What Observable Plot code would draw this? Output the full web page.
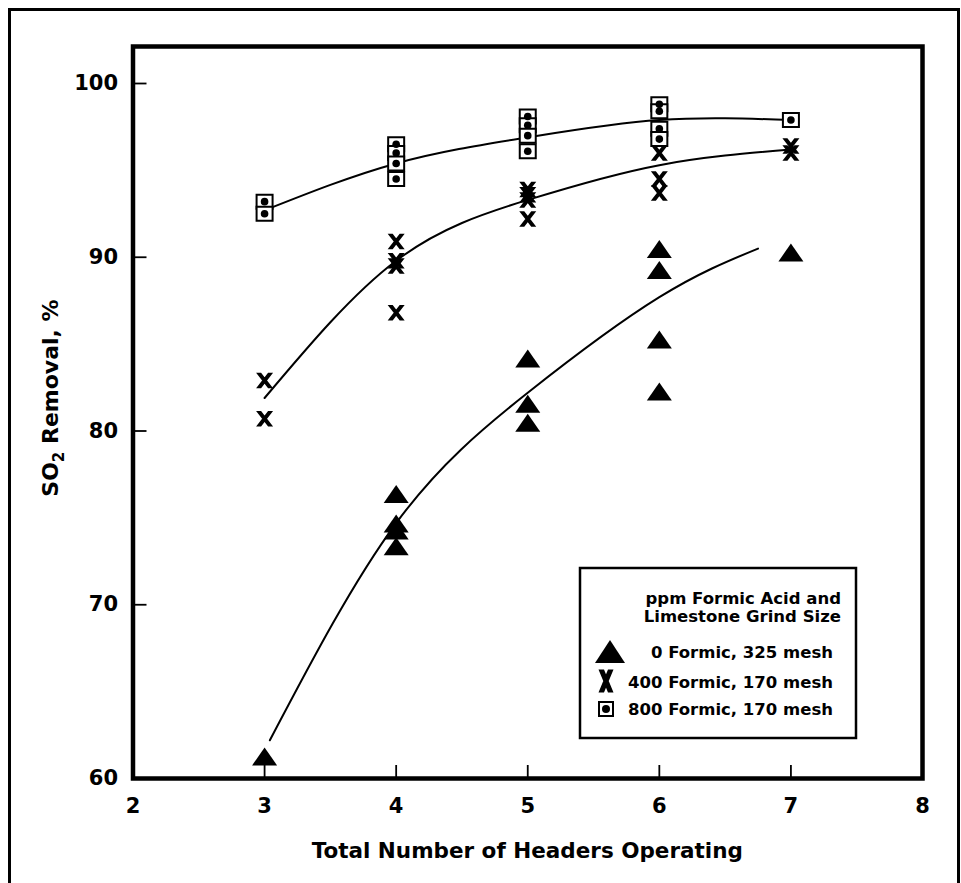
<!DOCTYPE html>
<html><head><meta charset="utf-8">
<script src="https://cdn.jsdelivr.net/npm/d3@7"></script>
<script src="https://cdn.jsdelivr.net/npm/@observablehq/plot@0.6"></script>
<style>
html,body{margin:0;padding:0;background:#fff;overflow:hidden;}
#wrap{position:relative;width:961px;height:883px;overflow:hidden;background:#fff;}
#chart{position:absolute;left:0;top:0;}
#border{position:absolute;left:8px;top:8px;width:952px;height:940px;border:3.5px solid #000;box-sizing:border-box;pointer-events:none;}
</style></head><body>
<div id="wrap"><div id="chart"></div><div id="border"></div></div>
<script>
// ---- data ----
const xTicks = [2, 3, 4, 5, 6, 7, 8];
const yTicks = [60, 70, 80, 90, 100];
const innerTicksX = [3, 4, 5, 6, 7];
const innerTicksY = [70, 80, 90, 100];

const xTitle = "Total Number of Headers Operating";
const legendTitle = ["ppm Formic Acid and", "Limestone Grind Size"];
const seriesLabels = ["0 Formic, 325 mesh", "400 Formic, 170 mesh", "800 Formic, 170 mesh"];

// 0 Formic, 325 mesh (triangles)
const triX = [3, 4, 4, 4, 4, 5, 5, 5, 6, 6, 6, 6, 7];
const triY = [61.1, 76.2, 74.5, 74.1, 73.2, 84.0, 81.4, 80.3, 90.3, 89.1, 85.1, 82.1, 90.1];
// 400 Formic, 170 mesh (X)
const crossX = [3, 3, 4, 4, 4, 4, 5, 5, 5, 5, 6, 6, 6, 7, 7];
const crossY = [82.9, 80.7, 90.9, 89.8, 89.5, 86.8, 93.9, 93.6, 93.3, 92.2, 96.0, 94.5, 93.7, 96.4, 96.0];
// 800 Formic, 170 mesh (squares with dot)
const sqX = [3, 3, 4, 4, 4, 4, 5, 5, 5, 5, 6, 6, 6, 6, 7];
const sqY = [93.2, 92.5, 96.5, 96.0, 95.4, 94.5, 98.1, 97.6, 97.0, 96.1, 98.8, 98.4, 97.4, 96.8, 97.9];

// fitted curves
const triCurveX = [3.04, 4, 5, 6, 6.75];
const triCurveY = [62.2, 74.7, 82.2, 87.7, 90.5];
const crossCurveX = [3.0, 4, 5, 6, 7];
const crossCurveY = [81.9, 89.8, 93.3, 95.3, 96.2];
const sqCurveX = [3.0, 4, 5, 6, 7];
const sqCurveY = [92.7, 95.4, 96.9, 97.9, 97.9];

// ---- build tables ----
const zip = (xs, ys) => xs.map((x, i) => ({x, y: ys[i]}));
const tri = zip(triX, triY), cross = zip(crossX, crossY), sq = zip(sqX, sqY);
const triCurve = zip(triCurveX, triCurveY), crossCurve = zip(crossCurveX, crossCurveY), sqCurve = zip(sqCurveX, sqCurveY);

const W = 961, H = 883;
const mL = 132.5, mR = 39, mT = 46, mB = 105;
const innerW = W - mL - mR, innerH = H - mT - mB;
const FONT = "'DejaVu Sans', sans-serif";

const triangleSym = {draw(c) { c.moveTo(0, -12); c.lineTo(12.5, 6); c.lineTo(-12.5, 6); c.closePath(); }};
const squareSym = {draw(c) { c.rect(-8, -7, 16, 14); }};
function boldX(w, h, t) {
  const a = w / 2, b = h / 2;
  return {draw(c) {
    c.moveTo(-a, -b); c.lineTo(-a + t, -b); c.lineTo(a, b); c.lineTo(a - t, b); c.closePath();
    c.moveTo(a - t, -b); c.lineTo(a, -b); c.lineTo(-a + t, b); c.lineTo(-a, b); c.closePath();
  }};
}
const crossSym = boldX(17, 15.5, 5);

const plot = Plot.plot({
  width: W, height: H,
  marginLeft: mL, marginRight: mR, marginTop: mT, marginBottom: mB,
  style: {fontFamily: FONT, background: "transparent"},
  x: {domain: [2, 8]},
  y: {domain: [60, 100 + 37 / 17.375]},
  marks: [
    Plot.axisX(xTicks, {tickSize: 0, tickPadding: 20, tickFormat: d => String(d), fontSize: 21, fontWeight: "bold", fontFamily: FONT, label: null, fill: "black"}),
    Plot.axisY(yTicks, {tickSize: 0, tickPadding: 15, tickFormat: d => String(d), fontSize: 21, fontWeight: "bold", fontFamily: FONT, label: null, fill: "black"}),
    Plot.ruleX(innerTicksX, {insetTop: innerH - 13, strokeWidth: 1.8, stroke: "black"}),
    Plot.ruleY(innerTicksY, {insetRight: innerW - 14, strokeWidth: 1.8, stroke: "black"}),
    Plot.line(triCurve, {x: "x", y: "y", curve: "natural", stroke: "black", strokeWidth: 2}),
    Plot.line(crossCurve, {x: "x", y: "y", curve: "natural", stroke: "black", strokeWidth: 2}),
    Plot.line(sqCurve, {x: "x", y: "y", curve: "natural", stroke: "black", strokeWidth: 2}),
    Plot.dot(tri, {x: "x", y: "y", symbol: triangleSym, fill: "black", stroke: "none"}),
    Plot.dot(cross, {x: "x", y: "y", symbol: crossSym, fill: "black", stroke: "none"}),
    Plot.dot(sq, {x: "x", y: "y", symbol: squareSym, fill: "white", stroke: "black", strokeWidth: 2}),
    Plot.dot(sq, {x: "x", y: "y", r: 3.8, fill: "black", stroke: "none"}),
    Plot.frame({stroke: "black", strokeWidth: 4.5})
  ]
});
document.getElementById("chart").appendChild(plot);

// ---- titles and legend (text kept as real text) ----
const svg = d3.select(plot);
svg.append("text")
  .attr("x", mL + innerW / 2).attr("y", 850).attr("dy", "0.35em")
  .attr("text-anchor", "middle").attr("font-family", FONT).attr("font-weight", "bold")
  .attr("font-size", 21.5).attr("fill", "black").text(xTitle);

const yt = svg.append("text")
  .attr("transform", "translate(50,398) rotate(-90)").attr("dy", "0.35em")
  .attr("text-anchor", "middle").attr("font-family", FONT).attr("font-weight", "bold")
  .attr("font-size", 22).attr("fill", "black");
yt.append("tspan").text("SO");
yt.append("tspan").attr("font-size", 15).attr("dy", 6).text("2");
yt.append("tspan").attr("dy", -6).text(" Removal, %");

const lg = svg.append("g").attr("font-family", FONT).attr("font-weight", "bold").attr("fill", "black");
lg.append("rect").attr("x", 580).attr("y", 568).attr("width", 276).attr("height", 170)
  .attr("fill", "white").attr("stroke", "black").attr("stroke-width", 2.5);
const titleYs = [598, 616];
legendTitle.forEach((t, i) => lg.append("text").attr("x", 841).attr("y", titleYs[i]).attr("dy", "0.35em")
  .attr("text-anchor", "end").attr("font-size", 16.5).text(t));
const entryYs = [652, 682, 709];
seriesLabels.forEach((t, i) => lg.append("text").attr("x", 833).attr("y", entryYs[i]).attr("dy", "0.35em")
  .attr("text-anchor", "end").attr("font-size", 16.5).text(t));
lg.append("path").attr("d", "M610,640L625,663L595,663Z").attr("fill", "black");
const lx = boldX(15, 23, 5.5), lp = d3.path();
lx.draw(lp);
lg.append("path").attr("transform", "translate(606,681)").attr("d", lp.toString()).attr("fill", "black");
lg.append("rect").attr("x", 599).attr("y", 702).attr("width", 14).attr("height", 14)
  .attr("fill", "white").attr("stroke", "black").attr("stroke-width", 2);
lg.append("circle").attr("cx", 606).attr("cy", 709).attr("r", 4).attr("fill", "black");
</script>
</body></html>
